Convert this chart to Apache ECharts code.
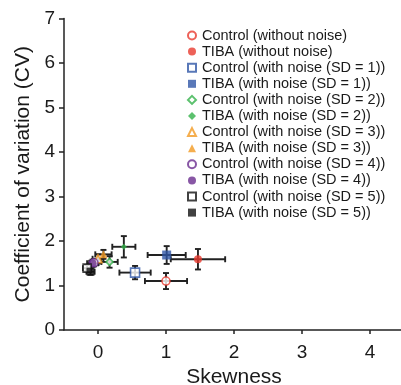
<!DOCTYPE html>
<html>
<head>
<meta charset="utf-8">
<script src="https://cdn.jsdelivr.net/npm/echarts@6/dist/echarts.min.js"></script>
<style>
  html, body { margin: 0; padding: 0; background: #fff; }
  #chart { width: 401px; height: 385px; }
</style>
</head>
<body>
<div id="chart"></div>
<script>
const names = [
  'Control (without noise)',
  'TIBA (without noise)',
  'Control (with noise (SD = 1))',
  'TIBA (with noise (SD = 1))',
  'Control (with noise (SD = 2))',
  'TIBA (with noise (SD = 2))',
  'Control (with noise (SD = 3))',
  'TIBA (with noise (SD = 3))',
  'Control (with noise (SD = 4))',
  'TIBA (with noise (SD = 4))',
  'Control (with noise (SD = 5))',
  'TIBA (with noise (SD = 5))',
]
const colors = ['#e8392e', '#e8392e', '#2f56a6', '#2f56a6', '#33b24a', '#33b24a',
  '#f39a22', '#f39a22', '#6a2d8f', '#6a2d8f', '#111111', '#111111']
const symbols = ['circle', 'circle', 'rect', 'rect', 'diamond', 'diamond',
  'triangle', 'triangle', 'circle', 'circle', 'rect', 'rect']
const sizes = [8, 8, 9, 9, 7, 6, 8, 8, 8, 8, 8, 8]
const hollow = [true, false, true, false, true, false, true, false, true, false, true, false]

const skew = [1.0, 1.47, 0.545, 1.01, 0.17, 0.38, 0.0, 0.08, -0.06, -0.08, -0.16, -0.11]
const cv = [1.1, 1.59, 1.29, 1.685, 1.53, 1.87, 1.6, 1.7, 1.51, 1.5, 1.39, 1.31]
const skewErr = [0.31, 0.4, 0.23, 0.28, 0.12, 0.17, 0.08, 0.12, 0.07, 0.08, 0.06, 0.06]
const cvErr = [0.18, 0.23, 0.15, 0.2, 0.13, 0.24, 0.1, 0.1, 0.08, 0.08, 0.07, 0.07]

const xTicks = [0, 1, 2, 3, 4]

const chart = echarts.init(document.getElementById('chart'))

const errData = skew.map((x, i) => [x, cv[i], skewErr[i], cvErr[i]])

const errSeries = {
  type: 'custom',
  silent: true,
  z: 1,
  data: errData,
  renderItem: (params, api) => {
    const x = api.value(0)
    const y = api.value(1)
    const xe = api.value(2)
    const ye = api.value(3)
    const l = api.coord([x - xe, y])
    const r = api.coord([x + xe, y])
    const t = api.coord([x, y + ye])
    const b = api.coord([x, y - ye])
    const cap = 3
    const style = { stroke: '#222', lineWidth: 1.9 }
    const line = (x1, y1, x2, y2) => ({
      type: 'line', shape: { x1, y1, x2, y2 }, style,
    })
    return {
      type: 'group',
      children: [
        line(l[0], l[1], r[0], r[1]),
        line(l[0], l[1] - cap, l[0], l[1] + cap),
        line(r[0], r[1] - cap, r[0], r[1] + cap),
        line(t[0], t[1], b[0], b[1]),
        line(t[0] - cap, t[1], t[0] + cap, t[1]),
        line(b[0] - cap, b[1], b[0] + cap, b[1]),
      ],
    }
  },
}

const scatterSeries = names.map((name, i) => ({
  name,
  type: 'scatter',
  z: 3,
  symbol: symbols[i],
  symbolSize: sizes[i],
  data: [[skew[i], cv[i]]],
  itemStyle: hollow[i]
    ? { color: '#fff', borderColor: colors[i], borderWidth: 1.6 }
    : { color: colors[i] },
}))

const axisFont = { fontFamily: 'Liberation Sans, Arial, sans-serif', color: '#1a1a1a' }

chart.setOption({
  animation: false,
  grid: {
    left: 64, top: 18.5, width: 340, height: 311.5,
    containLabel: false,
    outerBoundsMode: 'none',
  },
  legend: {
    data: names,
    orient: 'vertical',
    left: 182,
    top: 23,
    itemWidth: 8,
    itemHeight: 8,
    itemGap: 1.1,
    textStyle: { ...axisFont, fontSize: 14.5, padding: [0, 0, 0, 1] },
  },
  xAxis: {
    type: 'value',
    min: -0.5,
    max: 4.5,
    interval: 0.5,
    name: 'Skewness',
    nameLocation: 'middle',
    nameGap: 36,
    nameTextStyle: { ...axisFont, fontSize: 21 },
    axisLine: { onZero: false, lineStyle: { color: '#222', width: 1.5 } },
    axisTick: {
      show: true,
      length: 4,
      lineStyle: { color: '#222', width: 1.5 },
      customValues: xTicks,
    },
    axisLabel: {
      ...axisFont,
      fontSize: 19,
      margin: 13,
      customValues: xTicks,
    },
    splitLine: { show: false },
  },
  yAxis: {
    type: 'value',
    min: 0,
    max: 7,
    interval: 1,
    name: 'Coefficient of variation (CV)',
    nameLocation: 'middle',
    nameGap: 28,
    nameTextStyle: { ...axisFont, fontSize: 21 },
    axisLine: { show: true, onZero: false, lineStyle: { color: '#222', width: 1.5 } },
    axisTick: { show: true, length: 5, lineStyle: { color: '#222', width: 1.5 } },
    axisLabel: { ...axisFont, fontSize: 19, margin: 9 },
    splitLine: { show: false },
  },
  series: [errSeries, ...scatterSeries],
})
</script>
</body>
</html>
